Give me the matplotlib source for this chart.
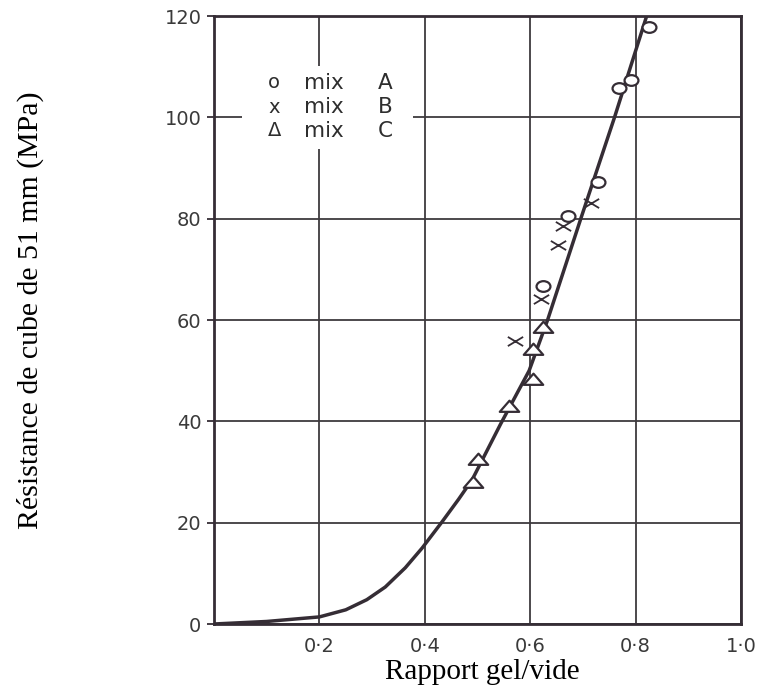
import matplotlib
matplotlib.use("Agg")
import matplotlib.pyplot as plt
from matplotlib.path import Path
from matplotlib.patches import Rectangle
from matplotlib.transforms import Affine2D

# Strength curve (gel/space ratio -> 51 mm cube strength, MPa)
curve_x = [0.0, 0.10, 0.20, 0.25, 0.29, 0.325, 0.363, 0.395, 0.433, 0.464,
           0.49, 0.544, 0.598, 0.633, 0.696, 0.76, 0.821]
curve_y = [0.0, 0.5, 1.4, 2.8, 4.8, 7.3, 11.1, 15.0, 20.2, 24.6,
           28.5, 39.5, 50.0, 60.0, 80.0, 100.0, 120.0]

# Measured points for the three mixes
mix_a_x = [0.625, 0.671, 0.728, 0.768, 0.791, 0.825]
mix_a_y = [66.7, 80.6, 87.3, 105.7, 107.3, 117.8]
mix_b_x = [0.572, 0.620, 0.652, 0.663, 0.715]
mix_b_y = [55.8, 64.2, 74.9, 78.6, 83.0]
mix_c_x = [0.492, 0.500, 0.559, 0.606, 0.605, 0.625]
mix_c_y = [28.1, 32.5, 43.0, 48.3, 54.3, 58.6]

legend_symbols = ["o", "x", "\u0394"]
legend_names = ["A", "B", "C"]

x_ticks = [0.2, 0.4, 0.6, 0.8, 1.0]
x_ticklabels = ["0\u00b72", "0\u00b74", "0\u00b76", "0\u00b78", "1\u00b70"]
y_ticks = [0, 20, 40, 60, 80, 100, 120]
y_ticklabels = ["0", "20", "40", "60", "80", "100", "120"]

ink = "#352d35"
grid_ink = "#3e3a3e"

# Flattened marker shapes, as drawn on the original plate
ellipse = Path.unit_circle().transformed(Affine2D().scale(1.3, 1.0))
tri = Path([(-1.0, -0.55), (1.0, -0.55), (0.0, 0.6), (-1.0, -0.55)],
           [Path.MOVETO, Path.LINETO, Path.LINETO, Path.CLOSEPOLY])
cross = Path([(-1.0, -0.6), (1.0, 0.6), (-1.0, 0.6), (1.0, -0.6)],
             [Path.MOVETO, Path.LINETO, Path.MOVETO, Path.LINETO])

fig = plt.figure(figsize=(7.6, 6.96), dpi=100)
ax = fig.add_axes([214 / 760, 1 - 624 / 696, (741 - 214) / 760, (624 - 16) / 696])

ax.set_xlim(0, 1.0)
ax.set_ylim(0, 120)

ax.set_xticks(x_ticks)
ax.set_xticklabels(x_ticklabels)
ax.set_yticks(y_ticks)
ax.set_yticklabels(y_ticklabels)
ax.grid(True, color=grid_ink, linewidth=1.3, zorder=1)
ax.set_axisbelow(True)

for s in ax.spines.values():
    s.set_linewidth(2.0)
    s.set_color(ink)

ax.tick_params(axis="y", length=5, width=1.3, color=ink, pad=4,
               labelsize=14, labelcolor="#3a3a3a")
ax.tick_params(axis="x", length=0, pad=9, labelsize=14, labelcolor="#3a3a3a")

# White patch clearing the grid behind the key
ax.add_patch(Rectangle((0.053, 0.782), 0.325, 0.136, transform=ax.transAxes,
                       facecolor="white", edgecolor="none", zorder=2))

ax.plot(curve_x, curve_y, color=ink, linewidth=2.5, zorder=3,
        solid_capstyle="round", solid_joinstyle="round")

ax.plot(mix_a_x, mix_a_y, linestyle="none", marker=ellipse, markersize=10,
        markerfacecolor="white", markeredgecolor=ink, markeredgewidth=1.6, zorder=4)
ax.plot(mix_b_x, mix_b_y, linestyle="none", marker=cross, markersize=11,
        markerfacecolor="none", markeredgecolor=ink, markeredgewidth=1.3, zorder=4)
ax.plot(mix_c_x, mix_c_y, linestyle="none", marker=tri, markersize=14,
        markerfacecolor="white", markeredgecolor=ink, markeredgewidth=1.6, zorder=4)

# Key written as text
key_y = [0.890, 0.850, 0.811]
for sym, name, yy in zip(legend_symbols, legend_names, key_y):
    ax.text(0.114, yy, sym, transform=ax.transAxes, fontsize=14, color="#2e2e2e",
            ha="center", va="center", zorder=5)
    ax.text(0.170, yy, "mix", transform=ax.transAxes, fontsize=15.5, color="#2e2e2e",
            ha="left", va="center", zorder=5)
    ax.text(0.311, yy, name, transform=ax.transAxes, fontsize=15.5, color="#2e2e2e",
            ha="left", va="center", zorder=5)

fig.text(482 / 760, 1 - 672 / 696, "Rapport gel/vide", family="Liberation Serif",
         fontsize=21, ha="center", va="center", color="black")
fig.text(30 / 760, 1 - 310 / 696, "R\u00e9sistance de cube de 51 mm (MPa)",
         family="Liberation Serif", fontsize=21.5, rotation=90,
         ha="center", va="center", color="black")

fig.savefig("out.png", dpi=100, facecolor="white")
